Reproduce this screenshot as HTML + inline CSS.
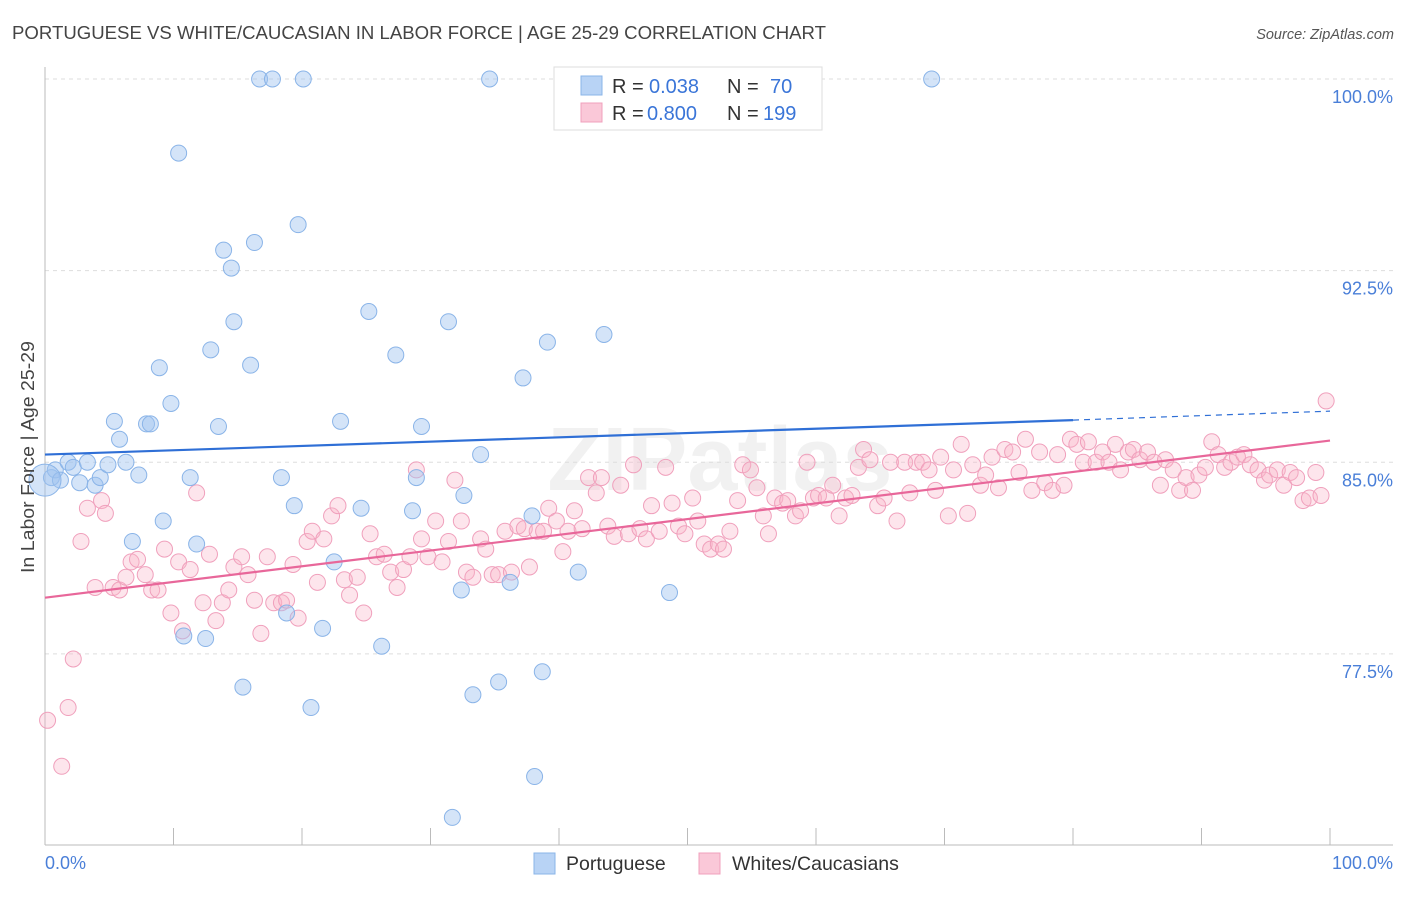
<!DOCTYPE html>
<html><head><meta charset="utf-8"><style>
body{margin:0;background:#fff;font-family:"Liberation Sans",sans-serif;}
svg text{font-family:"Liberation Sans",sans-serif;}
</style></head><body>
<svg id="chart" width="1406" height="892" xmlns="http://www.w3.org/2000/svg">
<text x="12" y="39" font-size="18" fill="#444" textLength="814" lengthAdjust="spacingAndGlyphs">PORTUGUESE VS WHITE/CAUCASIAN IN LABOR FORCE | AGE 25-29 CORRELATION CHART</text>
<text x="1394" y="39" font-size="14.5" fill="#555" text-anchor="end" font-style="italic">Source: ZipAtlas.com</text>
<text x="720" y="490" font-size="90" fill="#000" opacity="0.05" text-anchor="middle" font-family="Liberation Serif" font-weight="bold">ZIPatlas</text>
<g id="grid"></g>
<g id="pink"></g><g id="blue"></g><g id="lines"></g>
<text transform="translate(34,457) rotate(-90)" font-size="18" fill="#444" text-anchor="middle" textLength="232" lengthAdjust="spacingAndGlyphs">In Labor Force | Age 25-29</text>
<text x="45" y="869" font-size="18" fill="#4a7fd8">0.0%</text>
<text x="1393" y="869" font-size="18" fill="#4a7fd8" text-anchor="end">100.0%</text>
<g>
<rect x="554" y="67" width="268" height="63" fill="#fff" stroke="#ddd"/>
<rect x="581" y="76" width="21" height="19" fill="#b8d3f5" stroke="#8ab4e8"/>
<rect x="581" y="103" width="21" height="19" fill="#fac8d8" stroke="#f0a0bc"/>
<text x="612" y="93" font-size="20" fill="#333">R = </text><text x="649" y="93" font-size="20" fill="#3a75d8">0.038</text>
<text x="727" y="93" font-size="20" fill="#333">N = </text><text x="770" y="93" font-size="20" fill="#3a75d8">70</text>
<text x="612" y="120" font-size="20" fill="#333">R = </text><text x="647" y="120" font-size="20" fill="#3a75d8">0.800</text>
<text x="727" y="120" font-size="20" fill="#333">N = </text><text x="763" y="120" font-size="20" fill="#3a75d8">199</text>
</g>
<g>
<rect x="534" y="853" width="21" height="21" fill="#b8d3f5" stroke="#8ab4e8"/>
<text x="566" y="870" font-size="19.5" fill="#333">Portuguese</text>
<rect x="699" y="853" width="21" height="21" fill="#fac8d8" stroke="#f0a0bc"/>
<text x="732" y="870" font-size="19.5" fill="#333">Whites/Caucasians</text>
</g>
</svg>
<script>
const yTicks=[100,92.5,85,77.5];
const yTickLabels=["100.0%","92.5%","85.0%","77.5%"];
const blueX=[0.5,0.8,1.2,1.8,2.2,3.3,2.7,3.9,4.3,4.9,5.4,5.8,6.3,6.8,7.3,7.9,8.2,8.9,9.2,9.8,10.4,10.8,11.3,11.8,12.5,12.9,13.5,13.9,14.5,14.7,15.4,16.0,16.3,16.7,17.7,18.4,18.8,19.4,19.7,20.1,20.7,21.6,22.5,23.0,24.6,25.2,26.2,27.3,28.6,28.9,29.3,31.4,31.7,32.4,32.6,33.3,33.9,34.6,35.3,36.2,37.2,37.9,38.1,38.7,39.1,41.5,43.5,48.6,69.0];
const blueY=[84.4,84.7,84.3,85.0,84.8,85.0,84.2,84.1,84.4,84.9,86.6,85.9,85.0,81.9,84.5,86.5,86.5,88.7,82.7,87.3,97.1,78.2,84.4,81.8,78.1,89.4,86.4,93.3,92.6,90.5,76.2,88.8,93.6,100,100,84.4,79.1,83.3,94.3,100,75.4,78.5,81.1,86.6,83.2,90.9,77.8,89.2,83.1,84.4,86.4,90.5,71.1,80.0,83.7,75.9,85.3,100,76.4,80.3,88.3,82.9,72.7,76.8,89.7,80.7,90.0,79.9,100];
const pinkX=[0.2,1.3,1.8,2.2,2.8,3.3,3.9,4.4,4.7,5.3,5.8,6.3,6.7,7.2,7.8,8.3,8.8,9.3,9.8,10.4,10.7,11.3,11.8,12.3,12.8,13.3,13.8,14.3,14.7,15.3,15.8,16.3,16.8,17.3,17.8,18.4,18.8,19.3,19.7,20.4,20.8,21.2,21.7,22.3,22.8,23.3,23.7,24.3,24.8,25.3,25.8,26.4,26.9,27.4,27.9,28.4,28.9,29.3,29.8,30.4,30.9,31.4,31.9,32.4,32.8,33.3,33.9,34.3,34.8,35.3,35.8,36.3,36.8,37.3,37.7,38.3,38.8,39.2,39.8,40.3,40.7,41.2,41.8,42.3,42.9,43.3,43.8,44.3,44.8,45.4,45.8,46.3,46.8,47.2,47.8,48.3,48.8,49.3,49.8,50.4,50.8,51.3,51.8,52.4,52.8,53.3,53.9,54.3,54.9,55.4,55.9,56.3,56.8,57.4,57.8,58.4,58.8,59.3,59.8,60.2,60.8,61.3,61.8,62.3,62.8,63.3,63.7,64.2,64.8,65.3,65.8,66.3,66.9,67.3,67.8,68.3,68.8,69.3,69.7,70.3,70.7,71.3,71.8,72.2,72.8,73.2,73.7,74.2,74.7,75.3,75.8,76.3,76.8,77.4,77.8,78.4,78.8,79.3,79.8,80.3,80.8,81.2,81.8,82.3,82.8,83.3,83.7,84.3,84.7,85.2,85.8,86.3,86.8,87.2,87.8,88.3,88.8,89.3,89.8,90.3,90.8,91.3,91.8,92.3,92.8,93.3,93.8,94.4,94.9,95.3,95.9,96.4,96.9,97.4,97.9,98.4,98.9,99.3,99.7];
const pinkY=[74.9,73.1,75.4,77.3,81.9,83.2,80.1,83.5,83.0,80.1,80.0,80.5,81.1,81.2,80.6,80.0,80.0,81.6,79.1,81.1,78.4,80.8,83.8,79.5,81.4,78.8,79.5,80.0,80.9,81.3,80.6,79.6,78.3,81.3,79.5,79.5,79.6,81.0,78.9,81.9,82.3,80.3,82.0,82.9,83.3,80.4,79.8,80.5,79.1,82.2,81.3,81.4,80.7,80.1,80.8,81.3,84.7,82.0,81.3,82.7,81.1,81.9,84.3,82.7,80.7,80.5,82.0,81.6,80.6,80.6,82.3,80.7,82.5,82.4,80.9,82.3,82.3,83.2,82.7,81.5,82.3,83.1,82.4,84.4,83.8,84.4,82.5,82.1,84.1,82.2,84.9,82.4,82.0,83.3,82.3,84.8,83.4,82.5,82.2,83.6,82.7,81.8,81.6,81.8,81.6,82.3,83.5,84.9,84.7,84.0,82.9,82.2,83.6,83.4,83.5,82.9,83.1,85.0,83.6,83.7,83.6,84.1,82.9,83.6,83.7,84.8,85.5,85.1,83.3,83.6,85.0,82.7,85.0,83.8,85.0,85.0,84.7,83.9,85.2,82.9,84.7,85.7,83.0,84.9,84.1,84.5,85.2,84.0,85.5,85.4,84.6,85.9,83.9,85.4,84.2,83.9,85.3,84.1,85.9,85.7,85.0,85.8,85.0,85.4,85.0,85.7,84.7,85.4,85.5,85.1,85.4,85.0,84.1,85.1,84.7,83.9,84.4,83.9,84.5,84.8,85.8,85.3,84.8,85.0,85.2,85.3,84.9,84.7,84.3,84.5,84.7,84.1,84.6,84.4,83.5,83.6,84.6,83.7,87.4];
const blueTrend=[85.3,86.65,87.0]; // at x=0, 80, 100
const pinkTrend=[79.7,85.85]; // at x=0, 100

const NS="http://www.w3.org/2000/svg";
const X0=45,X1=1330,Y100=79,PXPER=25.55;
const sx=v=>X0+(X1-X0)*v/100;
const sy=v=>Y100+(100-v)*PXPER;
function mk(tag,attrs,parent){const e=document.createElementNS(NS,tag);for(const k in attrs)e.setAttribute(k,attrs[k]);parent.appendChild(e);return e;}
const grid=document.getElementById('grid');
yTicks.forEach((t,i)=>{
  const l=mk('line',{x1:45,x2:1393,y1:sy(t),y2:sy(t),stroke:'#ddd','stroke-dasharray':'4,4'},grid);
  
  
  const tx=mk('text',{x:1393,y:sy(t)+24,'font-size':18,fill:'#4a7fd8','text-anchor':'end'},grid);
  tx.textContent=yTickLabels[i];
  
  
});
const ax=mk('line',{x1:45,x2:45,y1:67,y2:845,stroke:'#bbb'},grid);


const bx=mk('line',{x1:45,x2:1393,y1:845,y2:845,stroke:'#bbb'},grid);


for(let i=1;i<=10;i++){
  const t=mk('line',{x1:sx(i*10),x2:sx(i*10),y1:828,y2:845,stroke:'#bbb'},grid);
  
  
}
const pg=document.getElementById('pink');
pinkX.forEach((x,i)=>{
  const c=mk('circle',{cx:sx(x),cy:sy(pinkY[i]),r:8,fill:'rgba(248,180,200,0.35)',stroke:'#f0a0bc','stroke-width':1},pg);
  
  
});
const bg=document.getElementById('blue');
blueX.forEach((x,i)=>{
  const c=mk('circle',{cx:sx(x),cy:sy(blueY[i]),r:8,fill:'rgba(160,196,240,0.45)',stroke:'#8ab4e8','stroke-width':1},bg);
  
  
});
const big=mk('circle',{cx:sx(0),cy:sy(84.3),r:16,fill:'rgba(160,196,240,0.45)',stroke:'#8ab4e8'},bg);


const lg=document.getElementById('lines');
const b1=mk('line',{x1:sx(0),y1:sy(blueTrend[0]),x2:sx(80),y2:sy(blueTrend[1]),stroke:'#2f6fd6','stroke-width':2.2},lg);


const b2=mk('line',{x1:sx(80),y1:sy(blueTrend[1]),x2:sx(100),y2:sy(blueTrend[2]),stroke:'#2f6fd6','stroke-width':1.2,'stroke-dasharray':'6,5'},lg);


const p1=mk('line',{x1:sx(0),y1:sy(pinkTrend[0]),x2:sx(100),y2:sy(pinkTrend[1]),stroke:'#e8679a','stroke-width':2.2},lg);


</script>
</body></html>
